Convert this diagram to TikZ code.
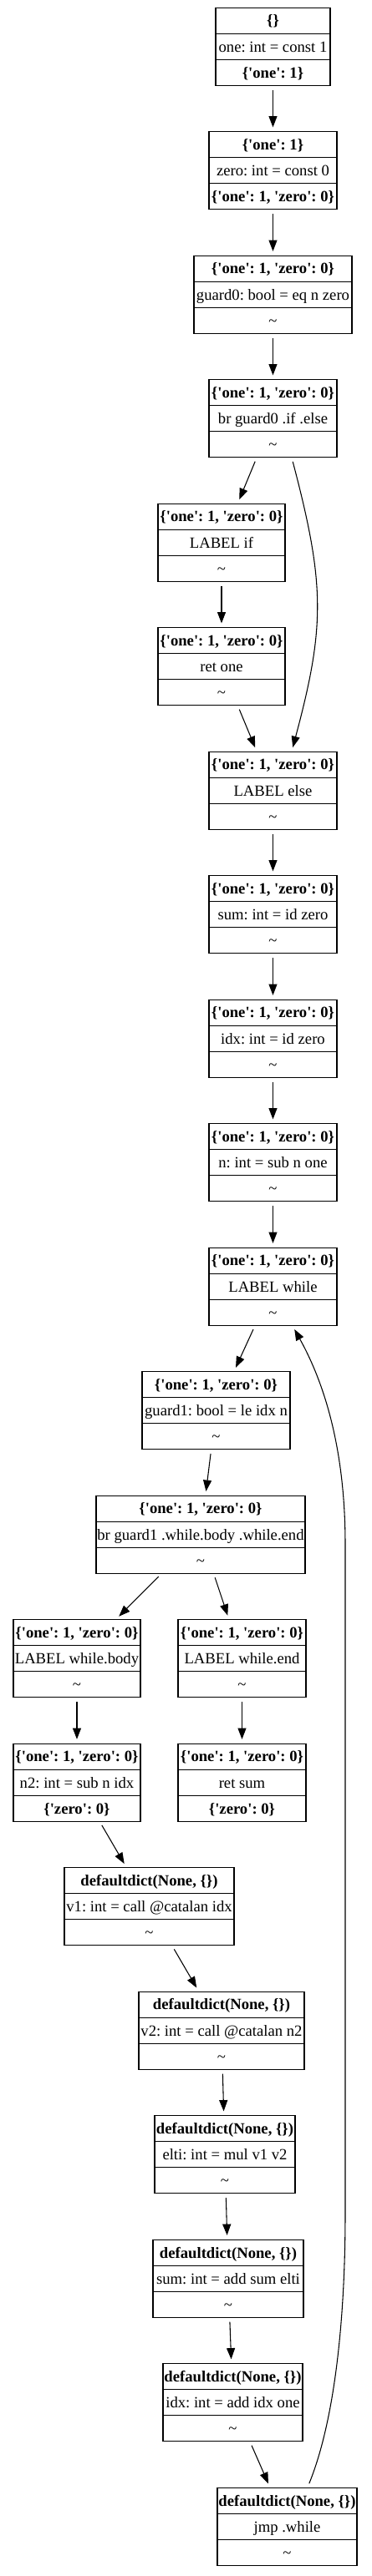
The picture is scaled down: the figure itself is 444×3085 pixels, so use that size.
\documentclass[tikz,border=0pt]{standalone}
\usepackage{fontspec}
\setmainfont{Liberation Serif}[Ligatures=TeXOff]
\usetikzlibrary{shapes.multipart,arrows.meta}

\newcommand{\dictz}{\textbf{\{'one': 1, 'zero': 0\}}}
\newcommand{\dflt}{\textbf{defaultdict(None, \{\})}}
\newcommand{\tld}{\textasciitilde}
\newcommand{\cellrow}[1]{\makebox[\bw]{\rule[-6.5pt]{0pt}{22.5pt}#1}}
\newcommand{\cellrows}[3]{\cellrow{#1}\nodepart{two}\cellrow{#2}\nodepart{three}\cellrow{#3}}

\tikzset{
  blk/.style={rectangle split, rectangle split parts=3, draw, line width=0.8pt,
    inner xsep=0pt, inner ysep=0pt, /utils/exec={\def\bw{#1}},
    font=\fontsize{14}{16}\selectfont\frenchspacing},
  flow/.style={-{Triangle[length=10pt,width=7.5pt]}, line width=0.8pt,
    shorten <=3.5pt, shorten >=3.5pt}
}

\begin{document}
\begin{tikzpicture}[x=0.75pt,y=-0.75pt]
\useasboundingbox (0,0) rectangle (444,3085);

% entry part
\node[blk=102.75pt] (c0) at (326.5,55.7) {\cellrows{\textbf{\{\}}}{one: int = const 1}{\textbf{\{'one': 1\}}}};
\node[blk=114.75pt] (c1) at (326.5,204.2) {\cellrows{\textbf{\{'one': 1\}}}{zero: int = const 0}{\dictz}};
\node[blk=141.75pt] (c2) at (326.5,352.7) {\cellrows{\dictz}{guard0: bool = eq n zero}{\tld}};
\node[blk=114.75pt] (c3) at (326.5,501.2) {\cellrows{\dictz}{br guard0 .if .else}{\tld}};
\node[blk=114pt] (ifl) at (265,649.7) {\cellrows{\dictz}{LABEL if}{\tld}};
\node[blk=114pt] (ret1) at (265,798.2) {\cellrows{\dictz}{ret one}{\tld}};
\node[blk=114.75pt] (elsel) at (326.5,946.7) {\cellrows{\dictz}{LABEL else}{\tld}};
\node[blk=114.75pt] (sum0) at (326.5,1095.2) {\cellrows{\dictz}{sum: int = id zero}{\tld}};
\node[blk=114.75pt] (idx0) at (326.5,1243.7) {\cellrows{\dictz}{idx: int = id zero}{\tld}};
\node[blk=114.75pt] (nsub) at (326.5,1392.2) {\cellrows{\dictz}{n: int = sub n one}{\tld}};

% loop part
\node[blk=114.75pt] (whl) at (326.5,1540.7) {\cellrows{\dictz}{LABEL while}{\tld}};
\node[blk=132.75pt] (g1) at (258.5,1689.2) {\cellrows{\dictz}{guard1: bool = le idx n}{\tld}};
\node[blk=187.5pt] (br1) at (240,1837.7) {\cellrows{\dictz}{br guard1 .while.body .while.end}{\tld}};
\node[blk=114pt] (body) at (92,1986.2) {\cellrows{\dictz}{LABEL while.body}{\tld}};
\node[blk=114.75pt] (endl) at (289.5,1986.2) {\cellrows{\dictz}{LABEL while.end}{\tld}};
\node[blk=114pt] (n2) at (92,2134.7) {\cellrows{\dictz}{n2: int = sub n idx}{\textbf{\{'zero': 0\}}}};
\node[blk=114.75pt] (rets) at (289.5,2134.7) {\cellrows{\dictz}{ret sum}{\textbf{\{'zero': 0\}}}};
\node[blk=152.25pt] (v1) at (178.5,2283.2) {\cellrows{\dflt}{v1: int = call @catalan idx}{\tld}};
\node[blk=148.5pt] (v2) at (265,2431.7) {\cellrows{\dflt}{v2: int = call @catalan n2}{\tld}};
\node[blk=126pt] (elti) at (269,2580.2) {\cellrows{\dflt}{elti: int = mul v1 v2}{\tld}};
\node[blk=135pt] (sum1) at (273,2728.7) {\cellrows{\dflt}{sum: int = add sum elti}{\tld}};
\node[blk=125.25pt] (idx1) at (278.5,2877.2) {\cellrows{\dflt}{idx: int = add idx one}{\tld}};
\node[blk=125.25pt] (jmp) at (343.5,3025.7) {\cellrows{\dflt}{jmp .while}{\tld}};

% edges
\draw[flow] (c0) -- (c1);
\draw[flow] (c1) -- (c2);
\draw[flow] (c2) -- (c3);
\draw[flow] (c3) -- (ifl);
\draw[flow] (ifl) -- (ret1);
\draw[flow] (ret1) -- (elsel);
\draw[flow] ([xshift=16.9pt]c3.south) .. controls (389,700) and (389,750) .. ([xshift=16.9pt]elsel.north);
\draw[flow] (elsel) -- (sum0);
\draw[flow] (sum0) -- (idx0);
\draw[flow] (idx0) -- (nsub);
\draw[flow] (nsub) -- (whl);
\draw[flow] (whl) -- (g1);
\draw[flow] (g1) -- (br1);
\draw[flow] (br1) -- (body);
\draw[flow] (br1) -- (endl);
\draw[flow] (body) -- (n2);
\draw[flow] (endl) -- (rets);
\draw[flow] (n2) -- (v1);
\draw[flow] (v1) -- (v2);
\draw[flow] (v2) -- (elti);
\draw[flow] (elti) -- (sum1);
\draw[flow] (sum1) -- (idx1);
\draw[flow] (idx1) -- (jmp);
\draw[flow] ([xshift=18.4pt]jmp.north) .. controls (400,2900) and (413,2780) .. (413,2650)
  -- (413,1850) .. controls (413,1740) and (390,1660) .. ([xshift=17.6pt]whl.south);
\end{tikzpicture}
\end{document}
